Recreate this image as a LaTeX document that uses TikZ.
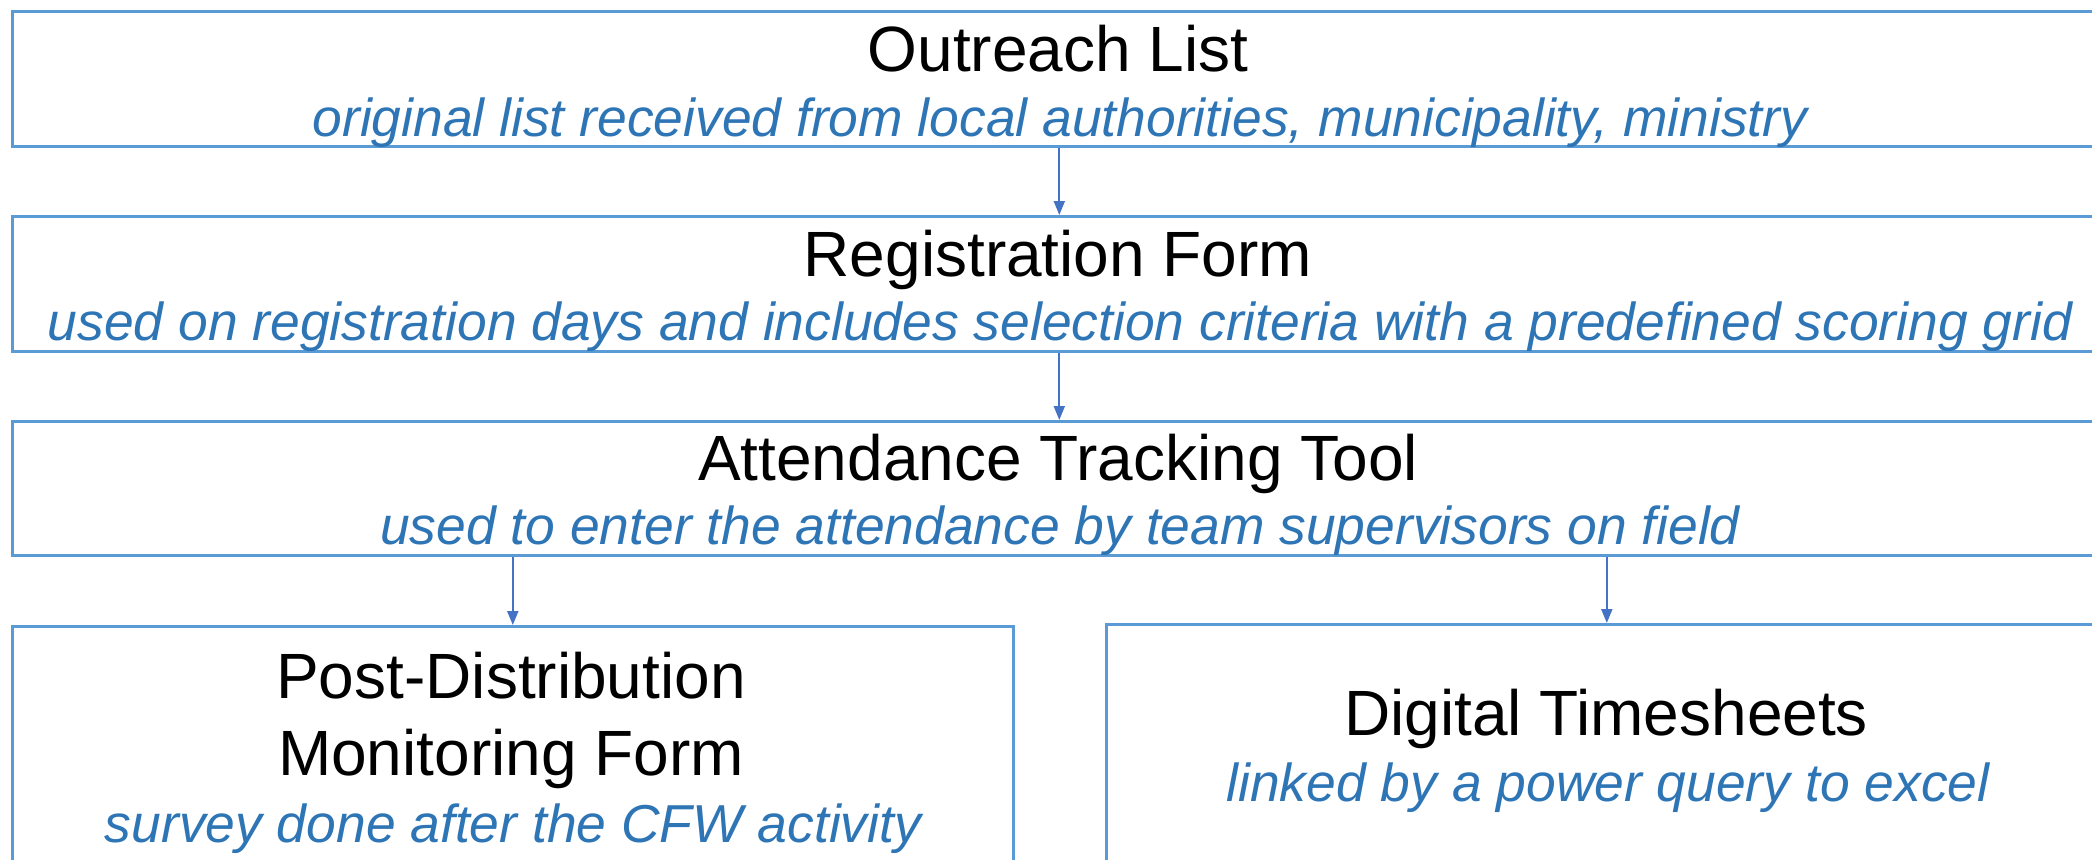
\documentclass[tikz,border=0pt]{standalone}
\usepackage{fontspec}
\setmainfont{Liberation Sans}
\usetikzlibrary{arrows.meta}
\definecolor{boxline}{HTML}{5B9BD5}
\definecolor{arrowblue}{HTML}{4472C4}
\definecolor{subblue}{HTML}{2E75B6}
\tikzset{
  box/.style={draw=boxline, line width=2.6pt, fill=none, inner sep=0pt, anchor=north west},
  titletext/.style={anchor=base, inner sep=0pt, font=\fontsize{64}{77}\selectfont, text=black},
  subtext/.style={anchor=base, inner sep=0pt, font=\fontsize{53.4}{64}\selectfont\itshape, text=subblue},
  flow/.style={draw=arrowblue, line width=2pt, -{Triangle[length=14pt,width=11pt]}}
}
\begin{document}
\begin{tikzpicture}[x=1pt,y=-1pt]
\clip (0,0) rectangle (2092,859);
\fill[white] (0,0) rectangle (2092,859);
% boxes
\node[box, minimum width=2094pt, minimum height=135pt] (ol) at (11,10) {};
\node[box, minimum width=2094pt, minimum height=135pt] (rf) at (11,215) {};
\node[box, minimum width=2094pt, minimum height=134pt] (at) at (11,420) {};
\node[box, minimum width=1001pt, minimum height=260pt] (pdm) at (11,625) {};
\node[box, minimum width=1001pt, minimum height=260pt] (dt) at (1105,623) {};
% texts
\node[titletext] (olT) at (1058,71) {Outreach List};
\node[subtext] (olS) at (1060,136) {original list received from local authorities, municipality, ministry};
\node[titletext] (rfT) at (1058,276) {Registration Form};
\node[subtext] (rfS) at (1060,340) {used on registration days and includes selection criteria with a predefined scoring grid};
\node[titletext] (atT) at (1058,480) {Attendance Tracking Tool};
\node[subtext] (atS) at (1060,544) {used to enter the attendance by team supervisors on field};
\node[titletext] (pdmT1) at (511,698) {Post-Distribution};
\node[titletext] (pdmT2) at (511,775) {Monitoring Form};
\node[subtext] (pdmS) at (513,842) {survey done after the CFW activity};
\node[titletext] (dtT) at (1606,735) {Digital Timesheets};
\node[subtext] (dtS) at (1608,801) {linked by a power query to excel};
% connectors
\draw[flow] (ol.south) -- (rf.north);
\draw[flow] (rf.south) -- (at.north);
\draw[flow] (at.south -| pdm.north) -- (pdm.north);
\draw[flow] (at.south -| dt.north) -- (dt.north);
\end{tikzpicture}
\end{document}
